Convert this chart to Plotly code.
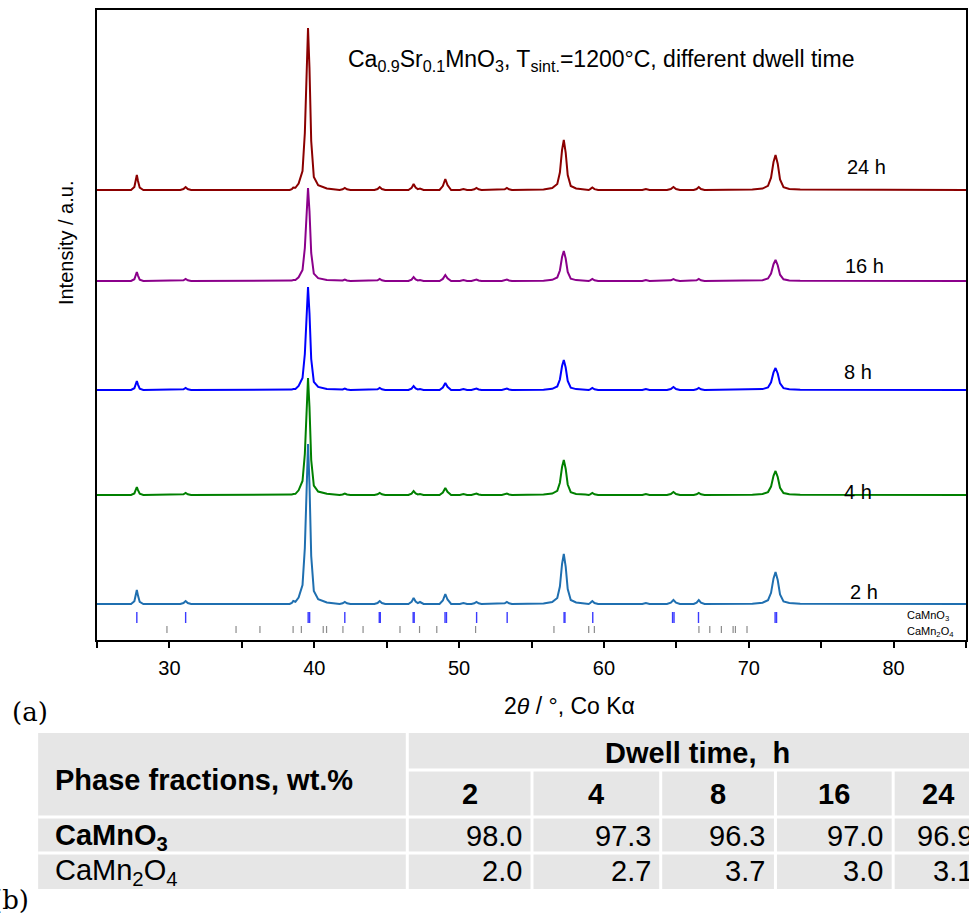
import plotly.graph_objects as go

# ---------------- data ----------------
two_theta = [
    25.00,
    27.35, 27.58, 27.68, 27.75, 27.83, 27.95, 28.20,
    30.75, 30.97, 31.12, 31.27, 31.50,
    38.30, 38.45, 38.55, 38.70,
    38.92, 39.19, 39.35, 39.47, 39.57, 39.67, 39.79, 39.97, 40.27, 40.87,
    41.75, 41.96, 42.11, 42.26, 42.50,
    44.15, 44.37, 44.52, 44.67, 44.90,
    46.50, 46.72, 46.86, 47.00, 47.15, 47.30, 47.55,
    48.65, 48.88, 49.05, 49.20, 49.45,
    50.05, 50.30, 50.55,
    50.85, 51.05, 51.20, 51.35, 51.55,
    52.95, 53.15, 53.30, 53.45, 53.65,
    55.83, 56.43, 56.78, 56.96, 57.11, 57.23, 57.36, 57.50, 57.71, 58.08, 58.73,
    58.95, 59.05, 59.20, 59.35, 59.60,
    62.65, 62.90, 63.15,
    64.35, 64.62, 64.80, 64.98, 65.25,
    66.20, 66.40, 66.55, 66.70, 66.95,
    70.25, 70.95, 71.33, 71.54, 71.71, 71.85, 72.00, 72.16, 72.40, 72.80, 73.55,
    85.00,
]

i_2h = [
    0,
    0, 2.8, 9.8, 14, 8.4, 2.1, 0,
    0, 1, 3, 1, 0,
    0, 1, 3, 2.2,
    6.4, 19, 56, 128, 160, 120, 48, 13, 4.8, 1.6,
    0, 0.7, 2, 0.7, 0,
    0, 1, 3, 1, 0,
    0, 2.1, 6, 2.4, 0.9, 2, 0,
    0, 3.5, 10, 4.5, 0,
    0, 1, 0,
    0, 0.7, 2, 0.7, 0,
    0, 0.7, 2, 0.7, 0,
    0.5, 2, 6, 17.5, 40, 50, 37.5, 15, 4, 1.5, 0.5,
    0, 1, 3, 1, 0,
    0, 1, 0,
    0, 1.4, 4, 1.4, 0,
    0, 1.4, 4, 1.4, 0,
    0.3, 1.3, 3.8, 11.2, 25.6, 32, 24, 9.6, 2.6, 1, 0.3,
    0,
]

i_4h = [
    0,
    0, 1.6, 5.6, 8, 4.8, 1.2, 0,
    0, 0.7, 2, 0.7, 0,
    0, 0.4, 1, 1.2,
    4.7, 14, 41, 94, 117, 88, 35, 9.4, 3.5, 1.2,
    0, 0.5, 1.5, 0.5, 0,
    0, 0.7, 2, 0.7, 0,
    0, 1.4, 4, 1.6, 0.6, 1, 0,
    0, 2.5, 7, 3.2, 0,
    0, 1, 0,
    0, 0.5, 1.5, 0.5, 0,
    0, 0.5, 1.5, 0.5, 0,
    0.4, 1.4, 4.2, 12.3, 28, 35, 26.3, 10.5, 2.8, 1.1, 0.4,
    0, 0.7, 2, 0.7, 0,
    0, 1, 0,
    0, 1, 3, 1, 0,
    0, 0.7, 2, 0.7, 0,
    0.2, 1, 2.9, 8.4, 19.2, 24, 18, 7.2, 1.9, 0.7, 0.2,
    0,
]

i_8h = [
    0,
    0, 1.8, 6.3, 9, 5.4, 1.4, 0,
    0, 0.7, 2, 0.7, 0,
    0, 0.4, 1, 1.1,
    4.1, 12, 36, 82, 103, 77, 31, 8.2, 3.1, 1,
    0, 0.5, 1.5, 0.5, 0,
    0, 0.7, 2, 0.7, 0,
    0, 1.4, 4, 1.6, 0.6, 1, 0,
    0, 2.5, 7, 3.2, 0,
    0, 1, 0,
    0, 0.5, 1.5, 0.5, 0,
    0, 0.5, 1.5, 0.5, 0,
    0.3, 1.2, 3.6, 10.5, 24, 30, 22.5, 9, 2.4, 0.9, 0.3,
    0, 0.7, 2, 0.7, 0,
    0, 1, 0,
    0, 1, 3, 1, 0,
    0, 0.7, 2, 0.7, 0,
    0.2, 0.9, 2.6, 7.7, 17.6, 22, 16.5, 6.6, 1.8, 0.7, 0.2,
    0,
]

i_16h = [
    0,
    0, 1.8, 6.3, 9, 5.4, 1.4, 0,
    0, 0.7, 2, 0.7, 0,
    0, 0.4, 1, 1,
    3.7, 11, 33, 74, 93, 70, 28, 7.4, 2.8, 0.9,
    0, 0.5, 1.5, 0.5, 0,
    0, 0.7, 2, 0.7, 0,
    0, 1.4, 4, 1.6, 0.6, 1, 0,
    0, 2.1, 6, 2.7, 0,
    0, 1, 0,
    0, 0.5, 1.5, 0.5, 0,
    0, 0.5, 1.5, 0.5, 0,
    0.3, 1.2, 3.6, 10.5, 24, 30, 22.5, 9, 2.4, 0.9, 0.3,
    0, 0.7, 2, 0.7, 0,
    0, 1, 0,
    0, 0.7, 2, 0.7, 0,
    0, 0.7, 2, 0.7, 0,
    0.2, 0.8, 2.5, 7.4, 16.8, 21, 15.8, 6.3, 1.7, 0.6, 0.2,
    0,
]

i_24h = [
    0,
    0, 3, 10.5, 15, 9, 2.3, 0,
    0, 1, 3, 1, 0,
    0, 0.9, 2.5, 2.2,
    6.5, 19, 57, 130, 162, 122, 49, 13, 4.9, 1.6,
    0, 0.7, 2, 0.7, 0,
    0, 1, 3, 1, 0,
    0, 2.1, 6, 2.4, 0.9, 1.5, 0,
    0, 3.9, 11, 5, 0,
    0, 1, 0,
    0, 0.7, 2, 0.7, 0,
    0, 0.7, 2, 0.7, 0,
    0.5, 2, 6, 17.5, 40, 50, 37.5, 15, 4, 1.5, 0.5,
    0, 0.9, 2.5, 0.9, 0,
    0, 1, 0,
    0, 1, 3, 1, 0,
    0, 1, 3, 1, 0,
    0.4, 1.4, 4.2, 12.3, 28, 35, 26.3, 10.5, 2.8, 1.1, 0.4,
    0,
]

series_labels = ["2 h", "4 h", "8 h", "16 h", "24 h"]
series_intensity = [i_2h, i_4h, i_8h, i_16h, i_24h]
stack_offsets = [36, 145, 250, 359, 450]

# reference reflections (2theta, Co K-alpha)
camno3_refl = [27.75, 31.12, 39.58, 39.68, 42.11, 44.49, 44.56, 46.83, 46.90,
               49.03, 49.13, 51.21, 53.32, 57.25, 57.31, 59.23, 64.74, 64.84,
               66.53, 71.82, 71.92]
camn2o4_refl = [29.83, 34.60, 36.25, 38.54, 39.11, 40.62, 40.85, 41.98, 43.37,
                45.92, 47.27, 48.46, 51.14, 56.55, 58.95, 59.34, 66.56, 67.31,
                68.11, 68.92, 69.08, 69.88]

# table data
dwell_times = ["2", "4", "8", "16", "24"]
camno3_wt = [98.0, 97.3, 96.3, 97.0, 96.9]
camn2o4_wt = [2.0, 2.7, 3.7, 3.0, 3.1]

# ---------------- styling ----------------
colors = ["#1f6fb0", "#008000", "#0000ff", "#8b008b", "#8b0000"]
label_pos = [(866, 592), (860, 492), (860, 372), (866, 266), (868, 167)]
FONT = "Liberation Sans, Arial, sans-serif"
SERIF = "DejaVu Serif, serif"

W, H = 969, 914
L, R, T, B = 97, 1, 10, 274
PW = W - L - R
PH = H - T - B


def px(x):
    return (x - L) / PW


def py(y):
    return (T + PH - y) / PH


fig = go.Figure()

for lab, inten, off, col in zip(series_labels, series_intensity, stack_offsets, colors):
    fig.add_trace(go.Scatter(
        x=two_theta, y=[v + off for v in inten], mode="lines",
        line=dict(color=col, width=2), name=lab, showlegend=False,
        hoverinfo="skip"))


def tick_trace(refl, y0, y1, color, width):
    xs, ys = [], []
    for r in refl:
        xs += [r, r, None]
        ys += [y0, y1, None]
    return go.Scatter(x=xs, y=ys, mode="lines", line=dict(color=color, width=width),
                      showlegend=False, hoverinfo="skip")


fig.add_trace(tick_trace(camno3_refl, 17, 28, "#3a3aff", 1.4))
fig.add_trace(tick_trace(camn2o4_refl, 7, 14, "#8c8c8c", 1.2))

ann = []
# series labels
for lab, (lx, ly) in zip(series_labels, label_pos):
    ann.append(dict(x=px(lx), y=py(ly), xref="paper", yref="paper", text=lab,
                    showarrow=False, font=dict(family=FONT, size=20, color="black"),
                    xanchor="center", yanchor="middle"))

ann.append(dict(x=px(907), y=py(616), xref="paper", yref="paper",
                text="CaMnO<sub>3</sub>", showarrow=False,
                font=dict(family=FONT, size=11, color="black"),
                xanchor="left", yanchor="middle"))
ann.append(dict(x=px(907), y=py(632), xref="paper", yref="paper",
                text="CaMn<sub>2</sub>O<sub>4</sub>", showarrow=False,
                font=dict(family=FONT, size=11, color="black"),
                xanchor="left", yanchor="middle"))

# title
ann.append(dict(x=px(602), y=py(60), xref="paper", yref="paper",
                text="Ca<sub>0.9</sub>Sr<sub>0.1</sub>MnO<sub>3</sub>, T<sub>sint.</sub>=1200°C, different dwell time",
                showarrow=False, font=dict(family=FONT, size=23, color="black"),
                xanchor="center", yanchor="middle"))

# axis titles
ann.append(dict(x=px(571), y=py(706), xref="paper", yref="paper",
                text="2<i>θ</i> / °, Co Kα", showarrow=False,
                font=dict(family=FONT, size=23, color="black"),
                xanchor="center", yanchor="middle"))
ann.append(dict(x=px(66), y=py(243), xref="paper", yref="paper",
                text="Intensity / a.u.", showarrow=False, textangle=-90,
                font=dict(family=FONT, size=20, color="black"),
                xanchor="center", yanchor="middle"))

# panel letters
ann.append(dict(x=px(10), y=py(712), xref="paper", yref="paper", text="(a)",
                showarrow=False, font=dict(family=SERIF, size=26, color="black"),
                xanchor="left", yanchor="middle"))
ann.append(dict(x=px(-10), y=py(900), xref="paper", yref="paper", text="(b)",
                showarrow=False, font=dict(family=SERIF, size=26, color="black"),
                xanchor="left", yanchor="middle"))

# ---------------- table ----------------
tab_left, tab_right = 38, 985
tab_top, tab_bottom = 733, 889
row_lines = [770, 817, 853]
col_edges = [408, 533, 662, 777, 895, tab_right]
shapes = [dict(type="rect", xref="paper", yref="paper", x0=px(tab_left), x1=px(tab_right),
               y0=py(tab_bottom), y1=py(tab_top), fillcolor="#e6e6e6", line=dict(width=0),
               layer="below")]
white = dict(color="white", width=3)
shapes.append(dict(type="line", xref="paper", yref="paper", x0=px(col_edges[0]), x1=px(col_edges[0]),
                   y0=py(tab_top), y1=py(tab_bottom), line=white))
shapes.append(dict(type="line", xref="paper", yref="paper", x0=px(col_edges[0]), x1=px(tab_right),
                   y0=py(row_lines[0]), y1=py(row_lines[0]), line=white))
for yl in row_lines[1:]:
    shapes.append(dict(type="line", xref="paper", yref="paper", x0=px(tab_left), x1=px(tab_right),
                       y0=py(yl), y1=py(yl), line=white))
for xe in col_edges[1:-1]:
    shapes.append(dict(type="line", xref="paper", yref="paper", x0=px(xe), x1=px(xe),
                       y0=py(row_lines[0]), y1=py(tab_bottom), line=white))

TF = 29
ann.append(dict(x=px(53), y=py(780), xref="paper", yref="paper",
                text="<b>Phase fractions, wt.%</b>", showarrow=False,
                font=dict(family=FONT, size=TF, color="black"), xanchor="left", yanchor="middle"))
ann.append(dict(x=px(699), y=py(753), xref="paper", yref="paper",
                text="<b>Dwell time,  h</b>", showarrow=False,
                font=dict(family=FONT, size=TF, color="black"), xanchor="center", yanchor="middle"))
ann.append(dict(x=px(53), y=py(837), xref="paper", yref="paper",
                text="<b>CaMnO<sub>3</sub></b>", showarrow=False,
                font=dict(family=FONT, size=TF, color="black"), xanchor="left", yanchor="middle"))
ann.append(dict(x=px(53), y=py(872), xref="paper", yref="paper",
                text="CaMn<sub>2</sub>O<sub>4</sub>", showarrow=False,
                font=dict(family=FONT, size=TF, color="black"), xanchor="left", yanchor="middle"))
for k, dt in enumerate(dwell_times):
    c0, c1 = col_edges[k], col_edges[k + 1]
    ann.append(dict(x=px((c0 + c1) / 2), y=py(794), xref="paper", yref="paper",
                    text="<b>%s</b>" % dt, showarrow=False,
                    font=dict(family=FONT, size=TF, color="black"), xanchor="center", yanchor="middle"))
    ann.append(dict(x=px(c1 - 8), y=py(836), xref="paper", yref="paper",
                    text="%.1f" % camno3_wt[k], showarrow=False,
                    font=dict(family=FONT, size=TF, color="black"), xanchor="right", yanchor="middle"))
    ann.append(dict(x=px(c1 - 8), y=py(871), xref="paper", yref="paper",
                    text="%.1f" % camn2o4_wt[k], showarrow=False,
                    font=dict(family=FONT, size=TF, color="black"), xanchor="right", yanchor="middle"))

fig.update_layout(
    width=W, height=H, margin=dict(l=L, r=R, t=T, b=B, pad=0),
    paper_bgcolor="white", plot_bgcolor="white",
    annotations=ann, shapes=shapes, showlegend=False,
    font=dict(family=FONT, color="black"),
    xaxis=dict(range=[25, 85], showgrid=False, zeroline=False,
               showline=True, linecolor="black", linewidth=2, mirror=True,
               ticks="outside", ticklen=6, tickwidth=1.5, tickcolor="black",
               ticklabelstandoff=3,
               tick0=0, dtick=10, tickfont=dict(family=FONT, size=20, color="black"),
               minor=dict(dtick=5, tick0=0, ticks="outside", ticklen=6, tickwidth=1.5,
                          tickcolor="black", showgrid=False)),
    yaxis=dict(range=[0, PH], showgrid=False, zeroline=False, showticklabels=False,
               showline=True, linecolor="black", linewidth=2, mirror=True, ticks=""),
)

fig.write_html("out.html", config={"displayModeBar": False},
               post_script="document.body.style.margin='0';")
